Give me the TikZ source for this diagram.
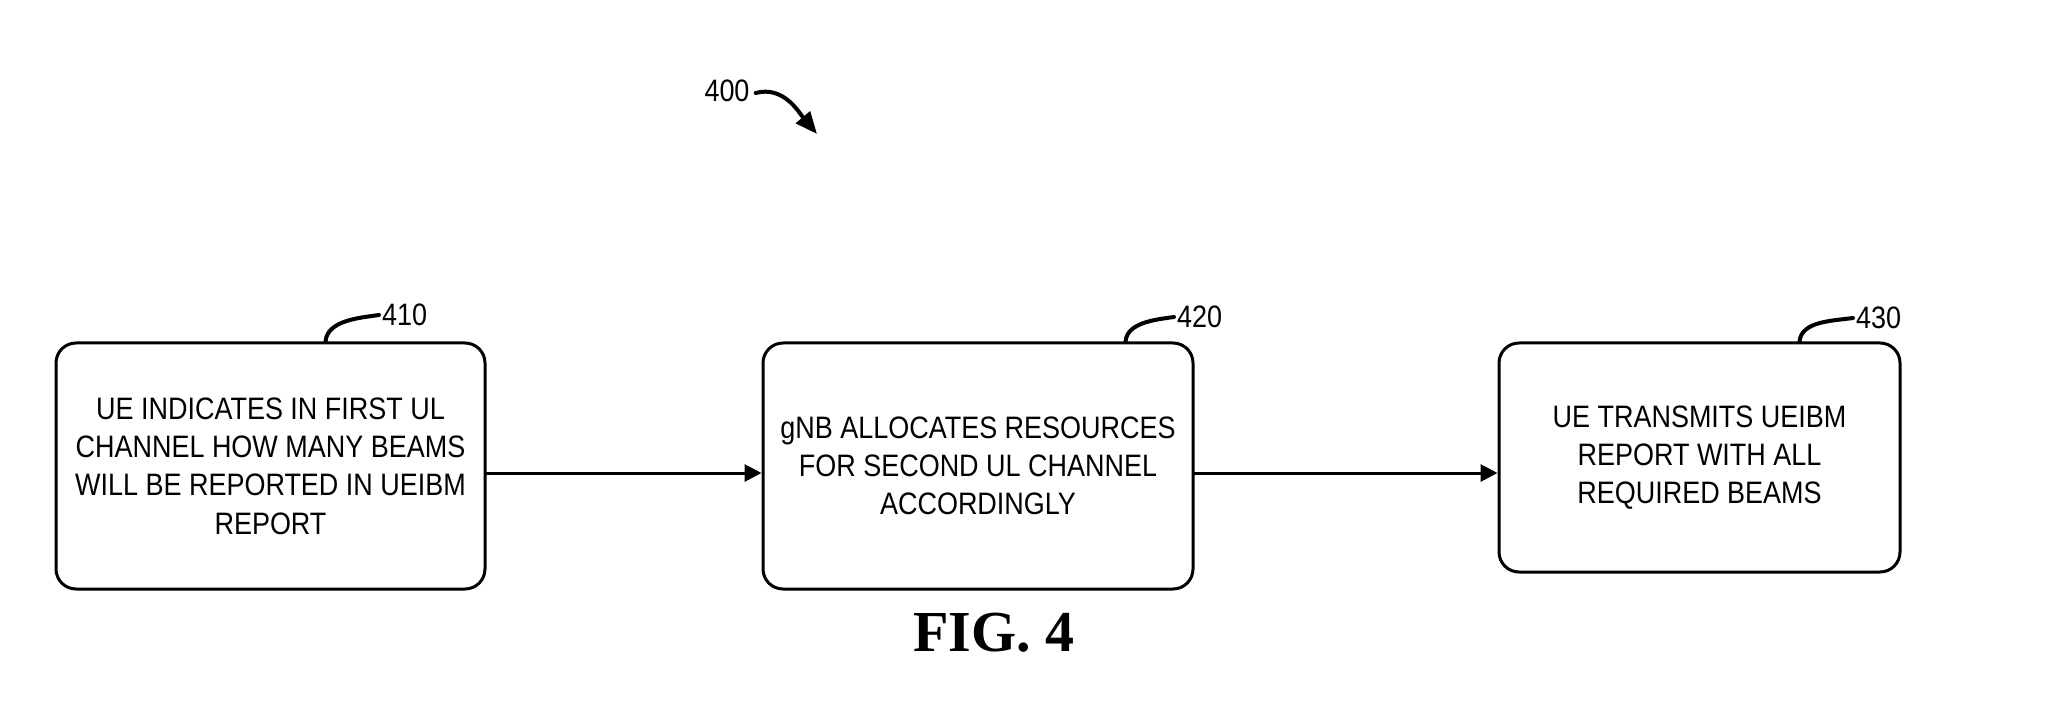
\documentclass[tikz,border=0pt]{standalone}
\usepackage{fontspec}
\setmainfont{Liberation Sans}[FakeStretch=0.87]
\newfontfamily\figfont{Liberation Serif}
\usetikzlibrary{arrows.meta}

\begin{document}
\begin{tikzpicture}[x=1pt, y=-1pt, line join=round, line cap=round,
		stepbox/.style={draw, line width=3pt, rounded corners=20pt, align=center,
			font=\fontsize{31}{38.3}\selectfont},
		lbl/.style={inner sep=0pt, font=\fontsize{31}{36}\selectfont},
		tick/.style={line width=4pt},
		flow/.style={line width=3pt, -{Triangle[length=17pt,width=17pt]}}]
	\useasboundingbox (0,0) rectangle (2062,719);
	% Cac buoc
	\node[stepbox, minimum width=429pt, minimum height=246pt] (b410) at (270.5,466)
		{UE INDICATES IN FIRST UL\\ CHANNEL HOW MANY BEAMS\\ WILL BE REPORTED IN UEIBM\\ REPORT};
	\node[stepbox, minimum width=430pt, minimum height=246pt] (b420) at (978,466)
		{gNB ALLOCATES RESOURCES\\ FOR SECOND UL CHANNEL\\ ACCORDINGLY};
	\node[stepbox, minimum width=401pt, minimum height=229pt] (b430) at (1699.5,457.5)
		{UE TRANSMITS UEIBM\\ REPORT WITH ALL\\ REQUIRED BEAMS};
	\coordinate (row) at (0,473);
	\draw[flow] (b410.east |- row) -- (b420.west |- row);
	\draw[flow] (b420.east |- row) -- (b430.west |- row);
	% Nhan so
	\node[lbl, anchor=west] (l410) at (382,315) {410};
	\node[lbl, anchor=west] (l420) at (1177,317) {420};
	\node[lbl, anchor=west] (l430) at (1856,318) {430};
	\draw[tick] ([xshift=-3pt]l410.west) to[out=188,in=85,looseness=0.9] ([xshift=271pt]b410.north west);
	\draw[tick] ([xshift=-3pt]l420.west) to[out=188,in=85,looseness=0.9] ([xshift=364pt]b420.north west);
	\draw[tick] ([xshift=-3pt]l430.west) to[out=188,in=85,looseness=0.9] ([xshift=302pt]b430.north west);
	\node[lbl] (l400) at (727,91) {400};
	\coordinate (tip400) at (817,134);
	\draw[tick, -{Triangle[length=22pt,width=18pt]}] (l400.east) ++(6,2) to[out=15,in=130] (tip400);
	\node (fig) at (994,633) {\fontsize{58}{60}\selectfont\figfont\bfseries FIG. 4};
\end{tikzpicture}
\end{document}
